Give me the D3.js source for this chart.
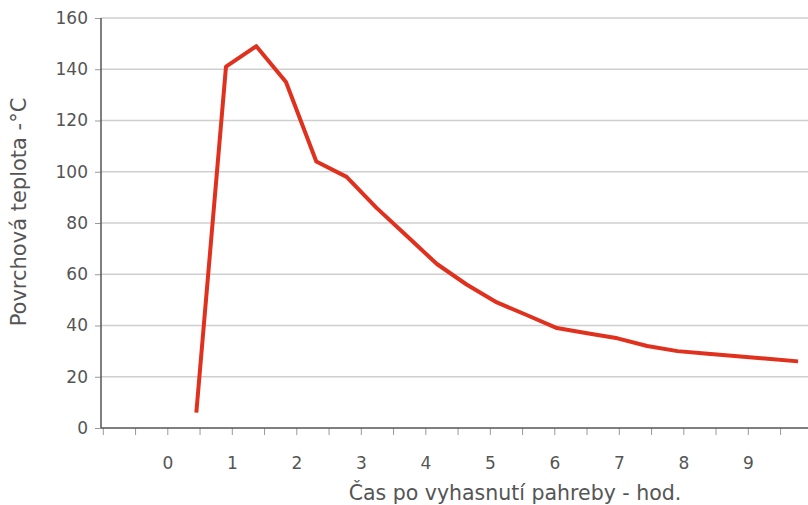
<!DOCTYPE html>
<html>
<head>
<meta charset="utf-8">
<script src="https://cdn.jsdelivr.net/npm/d3@7"></script>
<style>
  body { margin: 0; background: #fff; }
  text { font-family: "DejaVu Sans", sans-serif; fill: #555; }
</style>
</head>
<body>
<svg id="chart" width="808" height="505"></svg>
<script>
// hours after the fire dies down
var hours = [0.45, 0.91, 1.38, 1.84, 2.31, 2.78, 3.24, 3.71, 4.18, 4.64, 5.11,
             5.58, 6.04, 6.51, 6.98, 7.44, 7.91, 8.38, 8.84, 9.31, 9.78];
// surface temperature, deg C
var temps = [6, 141, 149, 135, 104, 98, 86, 75, 64, 56, 49,
             44, 39, 37, 35, 32, 30, 29, 28, 27, 26];

var yTicks = [0, 20, 40, 60, 80, 100, 120, 140, 160];
var xLabels = [0, 1, 2, 3, 4, 5, 6, 7, 8, 9];
var xTicks = d3.range(-1, 10, 0.5);

var svg = d3.select("#chart");
var plotLeft = 101, plotTop = 18, plotBottom = 428, plotRight = 808;

var x = d3.scaleLinear().domain([-1, 10]).range([102.8, 102.8 + 11 * 64.5]);
var y = d3.scaleLinear().domain([0, 160]).range([plotBottom, plotTop]);

// gridlines
svg.append("g").selectAll("line")
    .data(yTicks.filter(function(d){ return d > 0; }))
    .enter().append("line")
    .attr("x1", plotLeft).attr("x2", plotRight)
    .attr("y1", function(d){ return y(d); })
    .attr("y2", function(d){ return y(d); })
    .attr("stroke", "#cfcfcf").attr("stroke-width", 1.5);

// y axis
var yAxis = svg.append("g")
    .attr("transform", "translate(" + plotLeft + ",0)")
    .call(d3.axisLeft(y).tickValues(yTicks).tickSize(6).tickPadding(7));
yAxis.select(".domain").remove();
yAxis.selectAll("line").attr("stroke", "#999");
yAxis.selectAll("text").style("font-size", "17px").attr("fill", "#555")
    .style("font-family", "\"DejaVu Sans\", sans-serif");
svg.append("line")
    .attr("x1", plotLeft).attr("x2", plotLeft).attr("y1", plotTop).attr("y2", plotBottom)
    .attr("stroke", "#555").attr("stroke-width", 1.5);

// x axis
var xAxis = svg.append("g")
    .attr("transform", "translate(0," + plotBottom + ")")
    .call(d3.axisBottom(x).tickValues(xTicks).tickSize(7)
        .tickFormat(function(d){ return xLabels.indexOf(d) >= 0 ? d : ""; })
        .tickPadding(22));
xAxis.select(".domain").remove();
xAxis.selectAll("line").attr("stroke", "#999");
xAxis.selectAll("text").style("font-size", "17px").attr("fill", "#555")
    .style("font-family", "\"DejaVu Sans\", sans-serif");
svg.append("line")
    .attr("x1", plotLeft).attr("x2", plotRight).attr("y1", plotBottom).attr("y2", plotBottom)
    .attr("stroke", "#555").attr("stroke-width", 1.5);

// temperature line
var line = d3.line()
    .x(function(d, i){ return x(hours[i]); })
    .y(function(d){ return y(d); });

svg.append("path")
    .datum(temps)
    .attr("d", line)
    .attr("fill", "none")
    .attr("stroke", "#e0301e")
    .attr("stroke-width", 4)
    .attr("stroke-linejoin", "round");

// axis titles
svg.append("text")
    .attr("x", 515).attr("y", 500)
    .attr("text-anchor", "middle")
    .style("font-size", "20.5px")
    .text("Čas po vyhasnutí pahreby - hod.");

svg.append("text")
    .attr("transform", "translate(26,212) rotate(-90)")
    .attr("text-anchor", "middle")
    .style("font-size", "21px")
    .text("Povrchová teplota -°C");
</script>
</body>
</html>
